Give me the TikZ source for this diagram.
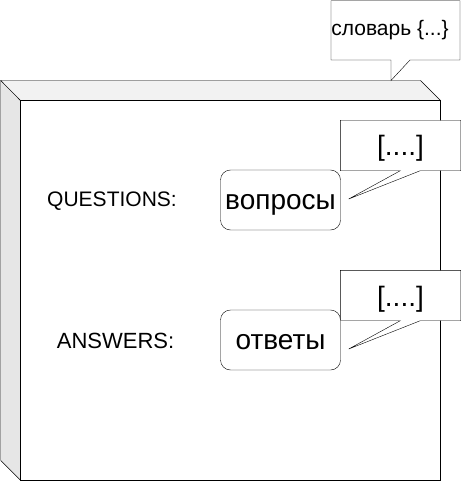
\documentclass[tikz,border=0pt]{standalone}
\usepackage{fontspec}
\setmainfont{Liberation Sans}
\usetikzlibrary{calc}
\definecolor{topface}{HTML}{F2F2F2}
\definecolor{sideface}{HTML}{E6E6E6}
\pgfdeclarelayer{back}
\pgfdeclarelayer{mid}
\pgfsetlayers{back,mid,main}
\tikzset{
  lbl/.style={font=\fontsize{21}{24}\selectfont, inner sep=0pt},
  big/.style={font=\fontsize{28}{32}\selectfont, inner sep=0pt},
  rbox/.style={big, draw, fill=white, rounded corners=10pt, minimum width=120pt, minimum height=60pt,
    text height=20pt, text depth=2pt},
  cbox/.style={big, minimum width=120pt, minimum height=50pt, text height=23pt, text depth=2pt},
  callout/.style={draw, fill=white, line join=miter},
}
\begin{document}
\begin{tikzpicture}[x=1pt,y=-1pt,line width=1.5pt]
\useasboundingbox (0,0) rectangle (461,481);
% 3D node box
\begin{pgfonlayer}{back}
\fill[white] (0,0) rectangle (461,481);
\coordinate (bNW) at (0.75,80.5);
\coordinate (bNE) at (420.5,80.5);
\coordinate (fNW) at (20.5,100.5);
\coordinate (fNE) at (440.5,100.5);
\coordinate (fSE) at (440.5,480.25);
\coordinate (fSW) at (20.5,480.25);
\coordinate (bSW) at (0.75,460.5);
\draw[fill=sideface] (bNW) -- (fNW) -- (fSW) -- (bSW) -- cycle;
\draw[fill=topface] (bNW) -- (bNE) -- (fNE) -- (fNW) -- cycle;
\draw[fill=white] (fNW) rectangle (fSE);
\end{pgfonlayer}
% labels
\node[lbl] (qlabel) at (112,201) {QUESTIONS:};
\node[lbl, font=\fontsize{22}{24}\selectfont] (alabel) at (115.5,341) {ANSWERS:};
% rounded boxes
\node[rbox] (q) at (280.5,200) {вопросы};
\node[rbox] (a) at (280.5,340) {ответы};
% callouts
\node[cbox] (qc) at (400.5,145.5) {[....]};
\node[cbox] (ac) at (400.5,295.5) {[....]};
\node[lbl] (dict) at (390,30) {словарь \{...\}};
\coordinate (qtip) at ($(q.east)+(8,-1)$);
\coordinate (atip) at ($(a.east)+(8,9)$);
\coordinate (dNW) at (331,0.75);
\coordinate (dNE) at (460,0.75);
\coordinate (dSE) at (460,60);
\coordinate (dSW) at (331,60);
\coordinate (dtip) at (391,80.5);
\begin{pgfonlayer}{mid}
\draw[callout] (qc.north west) -- (qc.north east) -- (qc.south east)
  -- ($(qc.south west)+(80,0)$) -- (qtip) -- ($(qc.south west)+(60,0)$) -- (qc.south west) -- cycle;
\draw[callout] (ac.north west) -- (ac.north east) -- (ac.south east)
  -- ($(ac.south west)+(80,0)$) -- (atip) -- ($(ac.south west)+(60,0)$) -- (ac.south west) -- cycle;
\draw[callout] (dNW) -- (dNE) -- (dSE) -- (410,60) -- (dtip) -- (391,60) -- (dSW) -- cycle;
\end{pgfonlayer}
\end{tikzpicture}
\end{document}
